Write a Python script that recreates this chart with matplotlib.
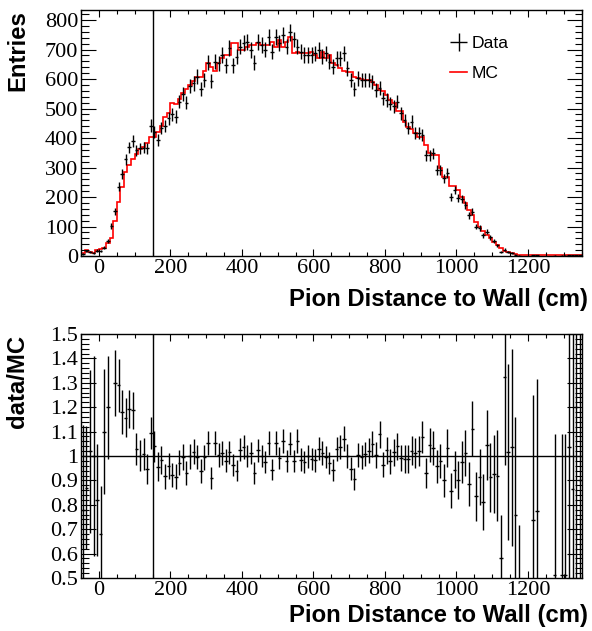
import numpy as np
import matplotlib
matplotlib.use('Agg')
import matplotlib.pyplot as plt
from matplotlib.ticker import MultipleLocator, FuncFormatter
from matplotlib.lines import Line2D

# binning: 140 bins of 10 cm between -50 and 1350 cm
bin_lo, bin_hi, n_bins = -50, 1350, 140

# data entries per bin
data_counts = [
    7, 17, 14, 9, 18, 16, 28, 52, 103, 152,
    235, 277, 328, 368, 390, 359, 365, 367, 365, 442,
    421, 393, 433, 441, 467, 480, 472, 523, 548, 520,
    576, 585, 608, 565, 597, 655, 593, 659, 653, 681,
    646, 706, 647, 676, 710, 721, 725, 698, 655, 727,
    715, 700, 743, 693, 744, 721, 750, 710, 758, 734,
    710, 693, 681, 681, 681, 687, 698, 676, 687, 659,
    642, 670, 670, 687, 636, 597, 565, 602, 597, 597,
    597, 591, 563, 568, 534, 529, 517, 508, 523, 484,
    461, 433, 455, 416, 416, 410, 342, 342, 348, 292,
    292, 263, 280, 201, 224, 197, 192, 172, 138, 150,
    100, 94, 70, 82, 63, 51, 36, 14, 22, 12,
    10, 5, 1, 0, 0, 0, 3, 3, 0, 0,
    0, 0, 1, 0, 1, 1, 2, 2, 2, 2,
]

# MC prediction per bin
mc_counts = [
    9, 20, 14, 9, 22, 24, 27, 43, 60, 117,
    183, 235, 285, 310, 329, 346, 362, 368, 383, 404,
    405, 421, 441, 470, 484, 518, 515, 531, 551, 565,
    580, 593, 608, 608, 627, 655, 642, 628, 653, 670,
    681, 681, 721, 721, 698, 698, 710, 715, 715, 721,
    715, 717, 715, 727, 710, 732, 710, 727, 743, 687,
    693, 687, 687, 687, 693, 681, 670, 690, 670, 681,
    653, 647, 636, 628, 625, 625, 608, 605, 600, 596,
    596, 590, 580, 563, 560, 546, 529, 520, 493, 493,
    455, 438, 430, 418, 404, 404, 376, 348, 342, 342,
    297, 268, 268, 237, 237, 223, 201, 178, 156, 139,
    116, 100, 85, 72, 60, 48, 38, 26, 17, 12,
    9.6, 6.6, 2.9, 3.5, 3.2, 3.0, 3.5, 3.3, 2.5, 2.2,
    2.0, 2.0, 1.95, 2.0, 1.95, 1.95, 1.93, 2.3, 1.7, 2.2,
]

# data/MC ratio per bin (nan = empty bin)
nan = float('nan')
ratio = [
    0.78, 0.87, 1.02, 1.00, 0.82, 0.68, 1.10, 1.20, 1.75, 1.30,
    1.29, 1.18, 1.156, 1.193, 1.187, 1.029, 1.002, 1.008, 0.947, 1.094,
    1.039, 0.956, 0.984, 0.916, 0.96, 0.922, 0.915, 0.973, 0.996, 0.93,
    0.998, 1.018, 0.996, 0.939, 0.994, 1.053, 0.91, 1.053, 1.005, 1.012,
    0.981, 1.015, 0.964, 0.94, 1.026, 1.037, 0.999, 1.012, 0.93, 1.023,
    1.001, 0.974, 1.053, 0.944, 1.053, 0.99, 1.061, 0.981, 1.05, 0.981,
    1.061, 0.985, 0.974, 0.999, 0.988, 0.982, 1.03, 1.012, 0.996, 0.971,
    0.943, 1.03, 1.037, 1.071, 1.001, 0.947, 0.906, 1.005, 0.996, 1.008,
    1.022, 1.048, 1.004, 1.089, 0.964, 1.023, 0.978, 1.016, 1.04, 0.992,
    0.988, 0.988, 1.022, 1.013, 1.022, 1.078, 0.93, 1.045, 1.033, 0.958,
    0.978, 0.9, 1.033, 0.857, 0.944, 0.903, 0.977, 1.012, 0.885, 1.111,
    0.835, 0.915, 0.811, 1.045, 0.913, 0.926, 0.919, 0.583, 1.325, 1.016,
    1.036, 0.76, 0.345, nan, nan, nan, 0.739, 0.775, nan, nan,
    nan, nan, 0.514, nan, 0.514, 0.514, 1.037, 0.865, 1.2, 0.9,
]

cut_position = 150  # vertical line (cm)

edges = np.linspace(bin_lo, bin_hi, n_bins + 1)
centers = 0.5 * (edges[:-1] + edges[1:])
half_w = 0.5 * (edges[1] - edges[0])

d = np.array(data_counts, dtype=float)
m = np.array(mc_counts, dtype=float)
r = np.array(ratio, dtype=float)
has_data = d > 0
d_err = np.sqrt(d)
r_err = np.where(has_data, r * np.sqrt(1.0 / np.maximum(d, 1) + 0.5 / m), nan)

serif = 'Liberation Serif'
sans = 'Liberation Sans'
plt.rcParams['font.family'] = serif

fig = plt.figure(figsize=(5.92, 6.31), dpi=100)
W, H = 592.0, 631.0


def px_axes(x0, y0, x1, y1):
    return fig.add_axes([x0 / W, 1 - y1 / H, (x1 - x0) / W, (y1 - y0) / H])


ax_top = px_axes(81, 10, 581.5, 256)
ax_bot = px_axes(81, 334, 581.5, 578)

# --- top panel: distribution
eb = ax_top.errorbar(centers[has_data], d[has_data], yerr=d_err[has_data],
                     xerr=half_w, fmt='none', ecolor='black', elinewidth=1.0)
ax_top.stairs(m, edges, color='red', linewidth=1.2, baseline=None)
ax_top.axvline(cut_position, color='black', linewidth=1.0)
ax_top.set_xlim(bin_lo, bin_hi)
ax_top.set_ylim(0, 834)
ax_top.yaxis.set_major_locator(MultipleLocator(100))
ax_top.yaxis.set_minor_locator(MultipleLocator(20))

leg = ax_top.legend([eb, Line2D([], [], color='red', linewidth=1.2)], ['Data', 'MC'],
                    loc='upper left', bbox_to_anchor=(0.738, 0.895), frameon=False,
                    borderaxespad=0, borderpad=0, handlelength=0.95, handletextpad=0.25,
                    labelspacing=0.85, prop={'family': sans, 'size': 12.6})

# --- bottom panel: ratio
ok = ~np.isnan(r)
ax_bot.errorbar(centers[ok], r[ok], yerr=r_err[ok], xerr=half_w, fmt='none',
                ecolor='black', elinewidth=1.0)
ax_bot.axhline(1.0, color='black', linewidth=1.0)
ax_bot.axvline(cut_position, color='black', linewidth=1.0)
ax_bot.set_xlim(bin_lo, bin_hi)
ax_bot.set_ylim(0.5, 1.5)
ax_bot.yaxis.set_major_locator(MultipleLocator(0.1))
ax_bot.yaxis.set_minor_locator(MultipleLocator(0.02))
ax_bot.yaxis.set_major_formatter(FuncFormatter(lambda v, p: f'{round(v, 2):g}'))

for ax in (ax_top, ax_bot):
    ax.xaxis.set_major_locator(MultipleLocator(200))
    ax.xaxis.set_minor_locator(MultipleLocator(50))
    ax.tick_params(which='both', direction='in', top=True, right=True,
                   width=0.8, labelsize=16)
    ax.tick_params(axis='y', which='major', length=10.8, pad=2)
    ax.tick_params(axis='y', which='minor', length=5.4)
    ax.tick_params(axis='x', which='major', length=5.3, pad=2)
    ax.tick_params(axis='x', which='minor', length=2.7)
    for s in ax.spines.values():
        s.set_linewidth(1.0)

# axis titles, ROOT style (right / top aligned)
title_kw = dict(family=sans, weight='bold', size=17.2)
fig.text(588 / W, 1 - 306 / H, 'Pion Distance to Wall (cm)', ha='right', va='baseline', **title_kw)
fig.text(588 / W, 1 - 622 / H, 'Pion Distance to Wall (cm)', ha='right', va='baseline', **title_kw)
fig.text(18 / W, 1 - 10 / H, 'Entries', rotation=90, ha='center', va='top', **title_kw)
fig.text(18 / W, 1 - 335 / H, 'data/MC', rotation=90, ha='center', va='top', **title_kw)

fig.savefig('out.png', dpi=100)
